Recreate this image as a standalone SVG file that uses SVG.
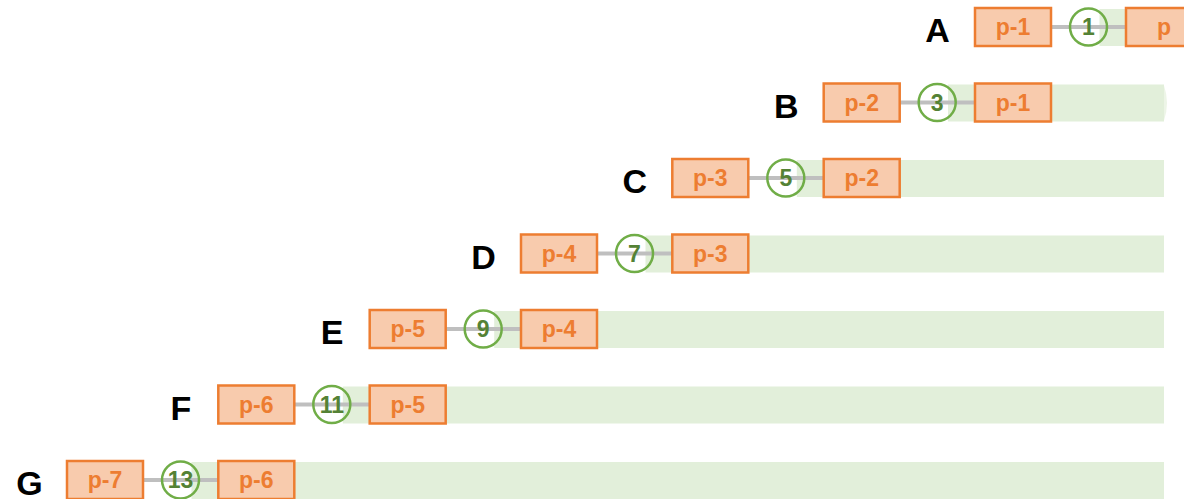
<svg xmlns="http://www.w3.org/2000/svg" width="1184" height="499" viewBox="0 0 1184 499">
<style>
.band{fill:#E2EFDA}
.line{stroke:#BFBFBF;stroke-width:4;fill:none}
.box rect{fill:#F8CBAD;stroke:#ED7D31;stroke-width:2.5}
.box text{fill:#ED7D31;font-family:"Liberation Sans",Arial,sans-serif;font-weight:bold;font-size:23px;text-anchor:middle}
.node circle{fill:none;stroke:#70AD47;stroke-width:2.5}
.node text{fill:#548235;font-family:"Liberation Sans",Arial,sans-serif;font-weight:bold;font-size:23px;text-anchor:middle}
.lbl{fill:#000;font-family:"Liberation Sans",Arial,sans-serif;font-weight:bold;font-size:34px;text-anchor:middle}
</style>
<g id="bands">
<rect class="band" x="1099.5" y="9" width="64.5" height="37"/>
<rect class="band" x="948" y="84.5" width="216" height="37"/>
<path d="M1164 85.5 Q1170 103 1164 120.5 Z" fill="#EDF5E7"/>
<rect class="band" x="796.8" y="160" width="367.2" height="37"/>
<rect class="band" x="645.5" y="235.5" width="518.5" height="37"/>
<rect class="band" x="494.2" y="311" width="669.8" height="37"/>
<rect class="band" x="342.8" y="386.5" width="821.2" height="37"/>
<rect class="band" x="191.5" y="462" width="972.5" height="37"/>
</g>
<g id="connectors">
<line class="line" x1="1051" y1="27" x2="1126" y2="27"/>
<line class="line" x1="899.7" y1="102.5" x2="975" y2="102.5"/>
<line class="line" x1="748.3" y1="178" x2="823.7" y2="178"/>
<line class="line" x1="597" y1="253.5" x2="672.3" y2="253.5"/>
<line class="line" x1="445.7" y1="329" x2="521" y2="329"/>
<line class="line" x1="294.3" y1="404.5" x2="369.7" y2="404.5"/>
<line class="line" x1="143" y1="480" x2="218.3" y2="480"/>
</g>
<g id="labels">
<text class="lbl" x="937.5" y="42">A</text>
<text class="lbl" x="786.2" y="117.5">B</text>
<text class="lbl" x="634.8" y="193">C</text>
<text class="lbl" x="483.5" y="268.5">D</text>
<text class="lbl" x="332.2" y="344">E</text>
<text class="lbl" x="180.8" y="419.5">F</text>
<text class="lbl" x="29.5" y="495">G</text>
</g>
<!-- Row A -->
<g id="A-left" class="box"><rect x="975" y="8" width="76" height="38"/><text x="1013" y="35">p-1</text></g>
<g id="A-right" class="box"><rect x="1126" y="8" width="76" height="38"/><text x="1164" y="35">p</text></g>
<g id="A-num" class="node"><circle cx="1088.5" cy="27" r="18.5"/><text x="1088.5" y="35">1</text></g>
<!-- Row B -->
<g id="B-left" class="box"><rect x="823.7" y="83.5" width="76" height="38"/><text x="861.7" y="110.5">p-2</text></g>
<g id="B-right" class="box"><rect x="975" y="83.5" width="76" height="38"/><text x="1013" y="110.5">p-1</text></g>
<g id="B-num" class="node"><circle cx="937.2" cy="102.5" r="18.5"/><text x="937.2" y="110.5">3</text></g>
<!-- Row C -->
<g id="C-left" class="box"><rect x="672.3" y="159" width="76" height="38"/><text x="710.3" y="186">p-3</text></g>
<g id="C-right" class="box"><rect x="823.7" y="159" width="76" height="38"/><text x="861.7" y="186">p-2</text></g>
<g id="C-num" class="node"><circle cx="785.8" cy="178" r="18.5"/><text x="785.8" y="186">5</text></g>
<!-- Row D -->
<g id="D-left" class="box"><rect x="521" y="234.5" width="76" height="38"/><text x="559" y="261.5">p-4</text></g>
<g id="D-right" class="box"><rect x="672.3" y="234.5" width="76" height="38"/><text x="710.3" y="261.5">p-3</text></g>
<g id="D-num" class="node"><circle cx="634.5" cy="253.5" r="18.5"/><text x="634.5" y="261.5">7</text></g>
<!-- Row E -->
<g id="E-left" class="box"><rect x="369.7" y="310" width="76" height="38"/><text x="407.7" y="337">p-5</text></g>
<g id="E-right" class="box"><rect x="521" y="310" width="76" height="38"/><text x="559" y="337">p-4</text></g>
<g id="E-num" class="node"><circle cx="483.2" cy="329" r="18.5"/><text x="483.2" y="337">9</text></g>
<!-- Row F -->
<g id="F-left" class="box"><rect x="218.3" y="385.5" width="76" height="38"/><text x="256.3" y="412.5">p-6</text></g>
<g id="F-right" class="box"><rect x="369.7" y="385.5" width="76" height="38"/><text x="407.7" y="412.5">p-5</text></g>
<g id="F-num" class="node"><circle cx="331.8" cy="404.5" r="18.5"/><text x="331.8" y="412.5">11</text></g>
<!-- Row G -->
<g id="G-left" class="box"><rect x="67" y="461" width="76" height="38"/><text x="105" y="488">p-7</text></g>
<g id="G-right" class="box"><rect x="218.3" y="461" width="76" height="38"/><text x="256.3" y="488">p-6</text></g>
<g id="G-num" class="node"><circle cx="180.5" cy="480" r="18.5"/><text x="180.5" y="488">13</text></g>
</svg>
